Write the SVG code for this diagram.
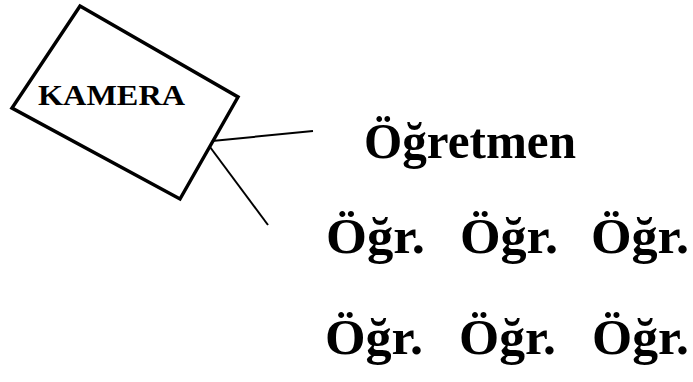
<svg xmlns="http://www.w3.org/2000/svg" width="693" height="382" viewBox="0 0 693 382">
<style>
.t{font-family:"Liberation Serif","Times New Roman",serif;font-weight:bold;fill:#000}
.box{fill:#fff;stroke:#000;stroke-width:3.5;stroke-linejoin:miter}
.ln{stroke:#000;stroke-width:2;fill:none}
.o{font-size:50px}
</style>
<rect width="693" height="382" fill="#fff"/>
<g id="kamera">
<polygon class="box" points="80,6 238,97 180,199 12,108"/>
<text class="t" x="38" y="105" font-size="29" textLength="147" lengthAdjust="spacingAndGlyphs">KAMERA</text>
</g>
<g id="connectors">
<line class="ln" x1="212" y1="141" x2="313" y2="131"/>
<line class="ln" x1="210" y1="147" x2="268" y2="225"/>
</g>
<g id="ogretmen">
<text class="t" x="364" y="158" font-size="50" textLength="212" lengthAdjust="spacingAndGlyphs">Öğretmen</text>
</g>
<g id="ogr1"><text class="t o" x="326" y="253" textLength="99" lengthAdjust="spacingAndGlyphs">Öğr.</text></g>
<g id="ogr2"><text class="t o" x="460" y="253" textLength="98" lengthAdjust="spacingAndGlyphs">Öğr.</text></g>
<g id="ogr3"><text class="t o" x="591" y="253" textLength="98" lengthAdjust="spacingAndGlyphs">Öğr.</text></g>
<g id="ogr4"><text class="t o" x="325" y="354" textLength="98" lengthAdjust="spacingAndGlyphs">Öğr.</text></g>
<g id="ogr5"><text class="t o" x="459" y="354" textLength="97" lengthAdjust="spacingAndGlyphs">Öğr.</text></g>
<g id="ogr6"><text class="t o" x="592" y="354" textLength="97" lengthAdjust="spacingAndGlyphs">Öğr.</text></g>
</svg>
